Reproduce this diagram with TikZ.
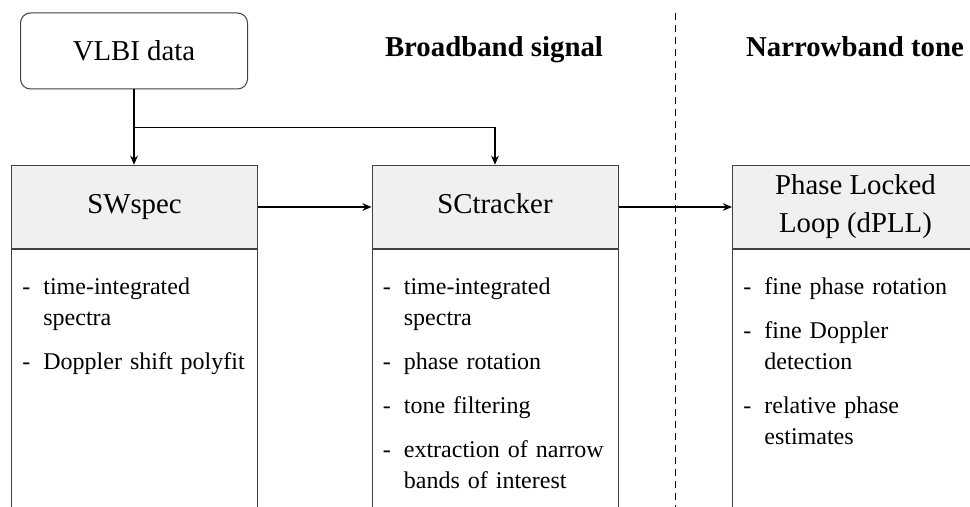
\documentclass[tikz,border=0pt]{standalone}
\usepackage{fontspec}
\setmainfont{Liberation Serif}
\usetikzlibrary{arrows.meta,calc}

% list settings and one list entry: a dash with the text hanging beside it
\newcommand\listsetup{\hyphenpenalty=10000 \parskip=6.5pt\relax}
\newcommand\stepitem[1]{\hangindent=10.5pt\hangafter=1\noindent\strut\makebox[10.5pt][l]{-}#1\par}

\tikzset{
  boxline/.style={draw=black!75, line width=0.5pt},
  srcbox/.style={boxline, rounded corners=5pt, minimum width=113.5pt, minimum height=38pt,
    inner sep=0pt, font=\fontsize{14.4}{18.8}\selectfont},
  hdrbox/.style={boxline, fill=gray!12, minimum width=123pt, minimum height=41.75pt,
    inner sep=0pt, align=center, text height=9.8pt, text depth=3.2pt,
    font=\fontsize{14.4}{18.8}\selectfont},
  twoline/.style={text height=28.6pt},
  bodybox/.style={boxline, minimum width=123pt, minimum height=150pt, inner sep=0pt},
  itemlist/.style={anchor=north west, inner sep=0pt, text width=116pt, align=left,
    font=\fontsize{12}{15.5}\selectfont},
  sectitle/.style={anchor=base, inner sep=0pt, font=\fontsize{14.4}{18.8}\selectfont\bfseries},
  flow/.style={line width=0.7pt, -{Stealth[length=4.5pt,width=3.8pt,inset=1.4pt]}},
  divider/.style={line width=0.5pt, dash pattern=on 3.5pt off 2.5pt},
}

\begin{document}
\begin{tikzpicture}[x=0.5pt, y=-0.5pt]
  \useasboundingbox (0,0) rectangle (970,507);
  \clip (0,0) rectangle (970,507);

  % section titles and the divider between them
  \node[sectitle] (bbtitle) at (494,57) {Broadband signal};
  \node[sectitle] (nbtitle) at (855,57) {Narrowband tone};
  \coordinate (divtop) at (675,13);
  \coordinate (divbot) at (675,515);
  \draw[divider] (divtop) -- (divbot);

  % input
  \node[srcbox] (vlbi) at (134,51) {VLBI data};

  % processing stages: header plus a body with the step list
  \node[hdrbox] (sw)  at (134.5,207) {SWspec};
  \node[hdrbox] (sct) at (495,207)   {SCtracker};
  \node[hdrbox, twoline] (pll) at (855.5,207) {Phase Locked\\Loop (dPLL)};

  \node[bodybox, anchor=north] (swbody)  at (sw.south)  {};
  \node[bodybox, anchor=north] (sctbody) at (sct.south) {};
  \node[bodybox, anchor=north] (pllbody) at (pll.south) {};

  \node[itemlist] (swlist) at ($(swbody.north west)+(11,23)$) {\listsetup
    \stepitem{time-integrated\newline spectra}%
    \stepitem{Doppler shift polyfit}};
  \node[itemlist] (sctlist) at ($(sctbody.north west)+(11,23)$) {\listsetup
    \stepitem{time-integrated\newline spectra}%
    \stepitem{phase rotation}%
    \stepitem{tone filtering}%
    \stepitem{extraction of narrow\newline bands of interest}};
  \node[itemlist] (plllist) at ($(pllbody.north west)+(11,23)$) {\listsetup
    \stepitem{fine phase rotation}%
    \stepitem{fine Doppler\newline detection}%
    \stepitem{relative phase\newline estimates}};

  % data flow
  \path (vlbi.south) ++(0,38) coordinate (split);
  \draw[flow] (vlbi.south) -- (vlbi.south |- sw.north);
  \draw[flow] (split) -| (sct.north);
  \draw[flow] (sw.east) -- (sct.west);
  \draw[flow] (sct.east) -- (pll.west);
\end{tikzpicture}
\end{document}
